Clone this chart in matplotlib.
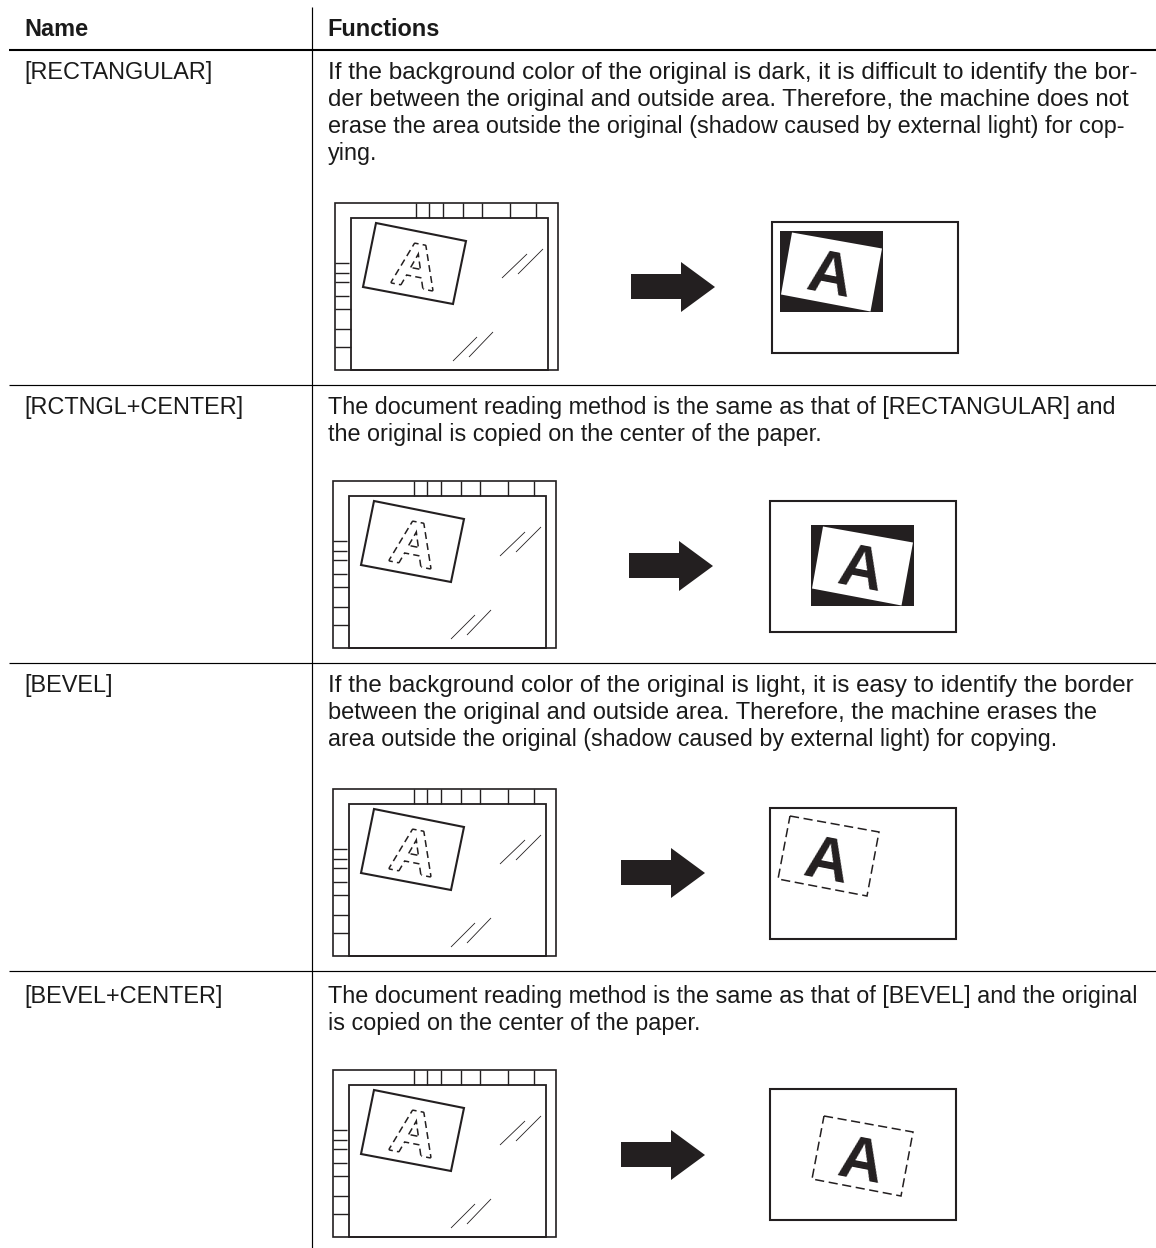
import matplotlib
matplotlib.use("Agg")
import matplotlib.pyplot as plt
from matplotlib.patches import Polygon, Rectangle
import matplotlib.patheffects as pe

W, H = 1156, 1248
NAMES = ["[RECTANGULAR]", "[RCTNGL+CENTER]", "[BEVEL]", "[BEVEL+CENTER]"]
BASELINE_Y = [79, 414, 692, 1003]
HEAD = ["Name", "Functions"]
DESCR = [
    ["If the background color of the original is dark, it is difficult to identify the bor-",
     "der between the original and outside area. Therefore, the machine does not",
     "erase the area outside the original (shadow caused by external light) for cop-",
     "ying."],
    ["The document reading method is the same as that of [RECTANGULAR] and",
     "the original is copied on the center of the paper."],
    ["If the background color of the original is light, it is easy to identify the border",
     "between the original and outside area. Therefore, the machine erases the",
     "area outside the original (shadow caused by external light) for copying."],
    ["The document reading method is the same as that of [BEVEL] and the original",
     "is copied on the center of the paper."],
]
DESCR_FS = [
    [17.44, 17.3, 16.82, 16.82],
    [16.82, 16.82],
    [17.36, 17.0, 16.75],
    [16.8, 16.8],
]
LINE_H = 27
RULES_Y = [384.5, 663, 971]
RULE_HEAD_Y = 50
VLINE_X = 311.5
GLASS_ORIGIN = [(335, 203), (333, 481), (333, 789), (333, 1070)]
ARROW_ORIGIN = [(631, 262), (629, 541), (621, 848), (621, 1130)]
PAPER = [(772, 222, 186, 131), (770, 501, 186, 131), (770, 808, 186, 131), (770, 1089, 186, 131)]
STYLE = ["solid", "solid", "dash", "dash"]
SHEET_OFFSET = [(8, 9), (41, 24), (7, 9), (41, 28)]

TOP_TICKS = [81, 94, 108, 128, 147, 175, 201]
LEFT_TICKS = [60, 70, 79, 93, 106, 126, 144]
GLINTS = [((167, 75), (192, 51)), ((183, 71), (208, 46)), ((118, 158), (142, 134)), ((134, 154), (158, 129))]
SHEET = [(41, 20), (131, 38), (118, 101), (28, 84)]
ARROW = [(0, 12), (50, 12), (50, 0), (84, 25), (50, 50), (50, 37), (0, 37)]

INK = "#231f20"
TEXT_INK = "#1a1a1a"
plt.rcParams["font.family"] = ["Liberation Sans", "DejaVu Sans"]
fig = plt.figure(figsize=(W / 100, H / 100), dpi=100)
ax = fig.add_axes([0, 0, 1, 1])
ax.set_xlim(0, W)
ax.set_ylim(H, 0)
ax.axis("off")

FS_NAME = 16.9


def seg(p, q, lw=1.3, color=INK):
    ax.plot([p[0], q[0]], [p[1], q[1]], color=color, lw=lw, solid_capstyle="butt")


def glass(ox, oy):
    ax.add_patch(Rectangle((ox, oy), 223, 167, fill=False, ec=INK, lw=1.2))
    ax.add_patch(Rectangle((ox + 16, oy + 15), 197, 152, fill=False, ec=INK, lw=1.3))
    for t in TOP_TICKS:
        seg((ox + t, oy), (ox + t, oy + 15), 1.0)
    for i, t in enumerate(LEFT_TICKS):
        seg((ox, oy + t), (ox + 14 + (2 if i > 3 else 0), oy + t), 1.0)
    for a, b in GLINTS:
        seg((ox + a[0], oy + a[1]), (ox + b[0], oy + b[1]), 0.6)
    ax.add_patch(Polygon([(ox + x, oy + y) for x, y in SHEET], closed=True, fill=False, ec=INK, lw=1.5))
    ax.text(ox + 80, oy + 68, "A", rotation=-11, ha="center", va="center", fontsize=44, color="white",
            fontweight="bold",
            path_effects=[pe.Stroke(linewidth=2.2, foreground=INK,
                                    dashes={"dash_offset": 0, "dash_list": [5, 3]}),
                          pe.Normal()], zorder=4)


def arrow(ox, oy):
    ax.add_patch(Polygon([(ox + x, oy + y) for x, y in ARROW], closed=True, fc=INK, ec="none"))


def paper(box, off, style):
    x, y, w, h = box
    ax.add_patch(Rectangle((x, y), w, h, fill=False, ec=INK, lw=1.5))
    bx0, by0 = x + off[0], y + off[1]
    if style == "solid":
        ax.add_patch(Rectangle((bx0, by0), 103, 81, fc=INK, ec="none"))
        ax.add_patch(Polygon([(bx0 + 12, by0 + 1.5), (bx0 + 102, by0 + 17.5), (bx0 + 90.5, by0 + 80.5), (bx0 + 1, by0 + 63.5)],
                             closed=True, fc="white", ec="none"))
    else:
        ax.add_patch(Polygon([(bx0 + 13, by0 - 1), (bx0 + 102, by0 + 15), (bx0 + 90, by0 + 79), (bx0 + 1, by0 + 62)],
                             closed=True, fill=False, ec=INK, lw=1.1, ls=(0, (6, 3))))
    ax.text(bx0 + 49, by0 + 47, "A", rotation=-11, ha="center", va="center", fontsize=44,
            fontweight="bold", color=INK)


ax.text(24, 36, HEAD[0], fontsize=FS_NAME, fontweight="bold", va="baseline", color=TEXT_INK)
ax.text(327.5, 36, HEAD[1], fontsize=FS_NAME, fontweight="bold", va="baseline", color=TEXT_INK)
seg((9, RULE_HEAD_Y), (W, RULE_HEAD_Y), 1.5, "#000000")
seg((VLINE_X, 7), (VLINE_X, H), 0.85, "#000000")
for y in RULES_Y:
    seg((9, y), (W, y), 0.85, "#000000")

for i in range(4):
    ax.text(24, BASELINE_Y[i], NAMES[i], fontsize=FS_NAME, va="baseline", color=TEXT_INK)
    for j, line in enumerate(DESCR[i]):
        ax.text(328, BASELINE_Y[i] + j * LINE_H, line, fontsize=DESCR_FS[i][j], va="baseline", color=TEXT_INK)
    glass(*GLASS_ORIGIN[i])
    arrow(*ARROW_ORIGIN[i])
    paper(PAPER[i], SHEET_OFFSET[i], STYLE[i])

fig.savefig("out.png", dpi=100)
